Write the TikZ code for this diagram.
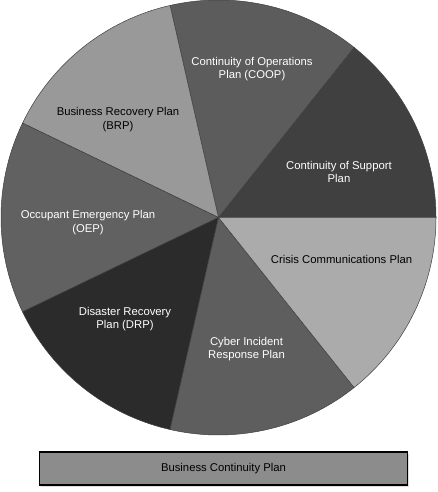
\documentclass[tikz,border=0pt]{standalone}
\usepackage{fontspec}
\setmainfont{Liberation Sans}
\usetikzlibrary{shadows}

\newcommand{\pieslice}[3]{%
  \filldraw[slice, fill=#3] (C) -- ++(#1:217.5pt) arc[start angle=#1, end angle=#2, radius=217.5pt] -- cycle;}

\begin{document}
\begin{tikzpicture}[
    x=1pt, y=1pt,
    slice/.style={draw=black!75, line width=0.5pt},
    lbl/.style={align=center, font=\fontsize{11.3}{13.3}\selectfont, inner sep=0pt},
    light/.style={lbl, text=white},
    dark/.style={lbl, text=black},
    plan/.style={draw=black, line width=1.5pt, fill=black!45, minimum width=368pt, minimum height=33pt,
        drop shadow={shadow xshift=1.5pt, shadow yshift=-1.5pt, fill=black!25}}
]
\useasboundingbox (0,0) rectangle (437,492);

% Pie of the sub-plans
\coordinate (C) at (218.5,274.5);
\pieslice{0}{51.43}{black!75}
\pieslice{51.43}{102.86}{black!64}
\pieslice{102.86}{154.29}{black!40}
\pieslice{154.29}{205.71}{black!62}
\pieslice{205.71}{257.14}{black!83}
\pieslice{257.14}{308.57}{black!63}
\pieslice{308.57}{360}{black!33}

% Slice labels
\node[light] (COOP) at (252,423) {Continuity of Operations\\Plan (COOP)};
\node[dark] (BRP) at (118,372.5) {Business Recovery Plan\\(BRP)};
\node[light] (CSP) at (339,320) {Continuity of Support\\Plan};
\node[light] (OEP) at (88,269.3) {Occupant Emergency Plan\\(OEP)};
\node[dark] (CCP) at (341.5,233) {Crisis Communications Plan};
\node[light] (DRP) at (125,173) {Disaster Recovery\\Plan (DRP)};
\node[light] (CIRP) at (246.5,143) {Cyber Incident\\Response Plan};

% Base plan
\node[plan, lbl] (BCP) at (223.5,23.4) {Business Continuity Plan};

\end{tikzpicture}
\end{document}
